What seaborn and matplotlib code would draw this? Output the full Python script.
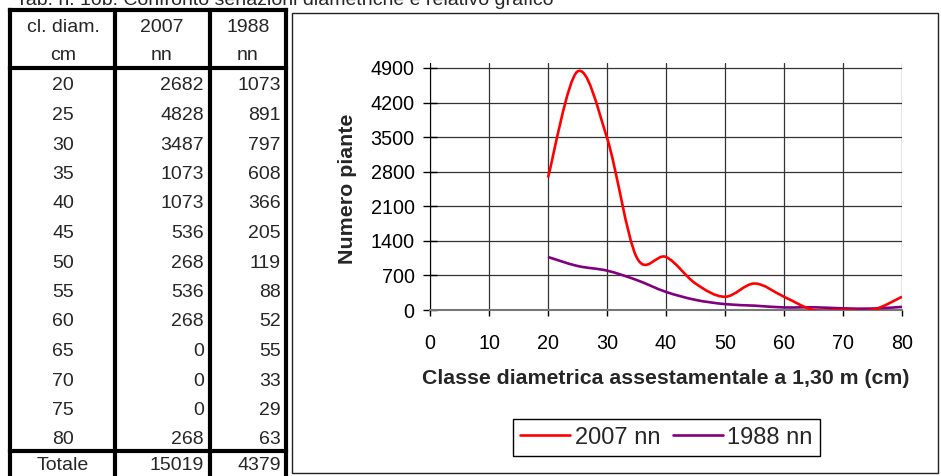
import numpy as np
import pandas as pd
import matplotlib
matplotlib.use("Agg")
import matplotlib.pyplot as plt
import seaborn as sns
from matplotlib.path import Path
from matplotlib.patches import PathPatch, Rectangle
from matplotlib.lines import Line2D

# dati della tabella (seriazioni diametriche)
classi = [20, 25, 30, 35, 40, 45, 50, 55, 60, 65, 70, 75, 80]
n2007 = [2682, 4828, 3487, 1073, 1073, 536, 268, 536, 268, 0, 0, 0, 268]
n1988 = [1073, 891, 797, 608, 366, 205, 119, 88, 52, 55, 33, 29, 63]
serie = ["2007 nn", "1988 nn"]
colori = ["#ff0000", "#800080"]
yticks = [0, 700, 1400, 2100, 2800, 3500, 4200, 4900]
xticks = [0, 10, 20, 30, 40, 50, 60, 70, 80]

titolo = "Tab. n. 10b: Confronto seriazioni diametriche e relativo grafico"

sns.set_style("white")
plt.rcParams["font.family"] = ["Liberation Sans", "DejaVu Sans"]

W, H = 941, 476
fig = plt.figure(figsize=(W / 100, H / 100), dpi=100)

# asse di sfondo in pixel per tabella e cornice
bg = fig.add_axes([0, 0, 1, 1])
bg.set_xlim(0, W)
bg.set_ylim(H, 0)
bg.axis("off")

fs = 14
bg.text(16, 5, titolo, fontsize=fs, va="baseline", ha="left")

# tabella
lw_t = 3
for x in [10, 115, 210, 286]:
    bg.plot([x, x], [10, H + 5], color="black", lw=lw_t, solid_capstyle="projecting")
for y in [10, 68, 451]:
    bg.plot([10, 286], [y, y], color="black", lw=lw_t, solid_capstyle="projecting")

bg.text(63, 28, "cl. diam.", fontsize=fs, ha="center", va="center")
bg.text(63, 56, "cm", fontsize=fs, ha="center", va="center")
bg.text(162, 28, "2007", fontsize=fs, ha="center", va="center")
bg.text(162, 56, "nn", fontsize=fs, ha="center", va="center")
bg.text(248, 28, "1988", fontsize=fs, ha="center", va="center")
bg.text(248, 56, "nn", fontsize=fs, ha="center", va="center")

for i, (c, a, b) in enumerate(zip(classi, n2007, n1988)):
    y = 86 + i * 29.5
    bg.text(63, y, str(c), fontsize=fs, ha="center", va="center")
    bg.text(204, y, str(a), fontsize=fs, ha="right", va="center")
    bg.text(281, y, str(b), fontsize=fs, ha="right", va="center")
bg.text(63, 465, "Totale", fontsize=fs, ha="center", va="center")
bg.text(204, 465, str(sum(n2007)), fontsize=fs, ha="right", va="center")
bg.text(281, 465, str(sum(n1988)), fontsize=fs, ha="right", va="center")

# cornice del grafico
bg.add_patch(Rectangle((292, 13), 646, 460, fill=False, edgecolor="#222222", lw=1))

# grafico
ax = fig.add_axes([430 / W, 1 - 310 / H, 472 / W, 247 / H])
df = pd.DataFrame({
    "classe": classi * 2,
    "n": n2007 + n1988,
    "serie": [serie[0]] * len(classi) + [serie[1]] * len(classi),
})
sns.lineplot(data=df, x="classe", y="n", hue="serie", palette=colori,
             ax=ax, legend=False, lw=0)


def curva_liscia(x, y):
    # spline tipo Excel (Bezier con tangenti di Catmull-Rom)
    p = np.column_stack([x, y]).astype(float)
    n = len(p)
    verts = [p[0]]
    codes = [Path.MOVETO]
    for i in range(n - 1):
        p0 = p[max(i - 1, 0)]
        p1 = p[i]
        p2 = p[i + 1]
        p3 = p[min(i + 2, n - 1)]
        verts += [p1 + (p2 - p0) / 6, p2 - (p3 - p1) / 6, p2]
        codes += [Path.CURVE4] * 3
    return Path(verts, codes)


for line in ax.lines:
    line.set_visible(False)
for vals, col in zip([n1988, n2007], colori[::-1]):
    ax.add_patch(PathPatch(curva_liscia(classi, vals), fill=False,
                           edgecolor=col, lw=1.9, zorder=3))

ax.set_xlim(0, 80)
ax.set_ylim(0, 5000)
ax.set_xticks(xticks)
ax.set_yticks(yticks)
ax.grid(True, color="#333333", lw=0.9)
for s in ["top", "right"]:
    ax.spines[s].set_visible(False)
ax.spines["left"].set_color("black")
ax.spines["bottom"].set_color("#777777")
ax.spines["bottom"].set_linewidth(1.5)
ax.tick_params(axis="y", direction="inout", length=10, width=1, pad=6,
               labelsize=14.2, colors="black", left=True)
ax.tick_params(axis="x", direction="out", length=4.5, width=1, pad=13,
               labelsize=14.2, colors="black", bottom=True)

ax.set_xlabel("Classe diametrica assestamentale a 1,30 m (cm)",
              fontsize=15.3, fontweight="bold")
ax.xaxis.set_label_coords(0.5, -0.24)
ax.set_ylabel("Numero piante", fontsize=15.4, fontweight="bold")
ax.yaxis.set_label_coords(-0.155, 0.49)

handles = [Line2D([], [], color=c, lw=1.9) for c in colori]
fig.legend(handles, serie, loc="center", bbox_to_anchor=(666.5 / W, 1 - 437.5 / H),
           ncol=2, fontsize=17, frameon=True, fancybox=False, edgecolor="black",
           framealpha=1, handlelength=2.1, handletextpad=0.2, columnspacing=0.55,
           borderpad=0.32, borderaxespad=0)

fig.savefig("out.png", dpi=100)
